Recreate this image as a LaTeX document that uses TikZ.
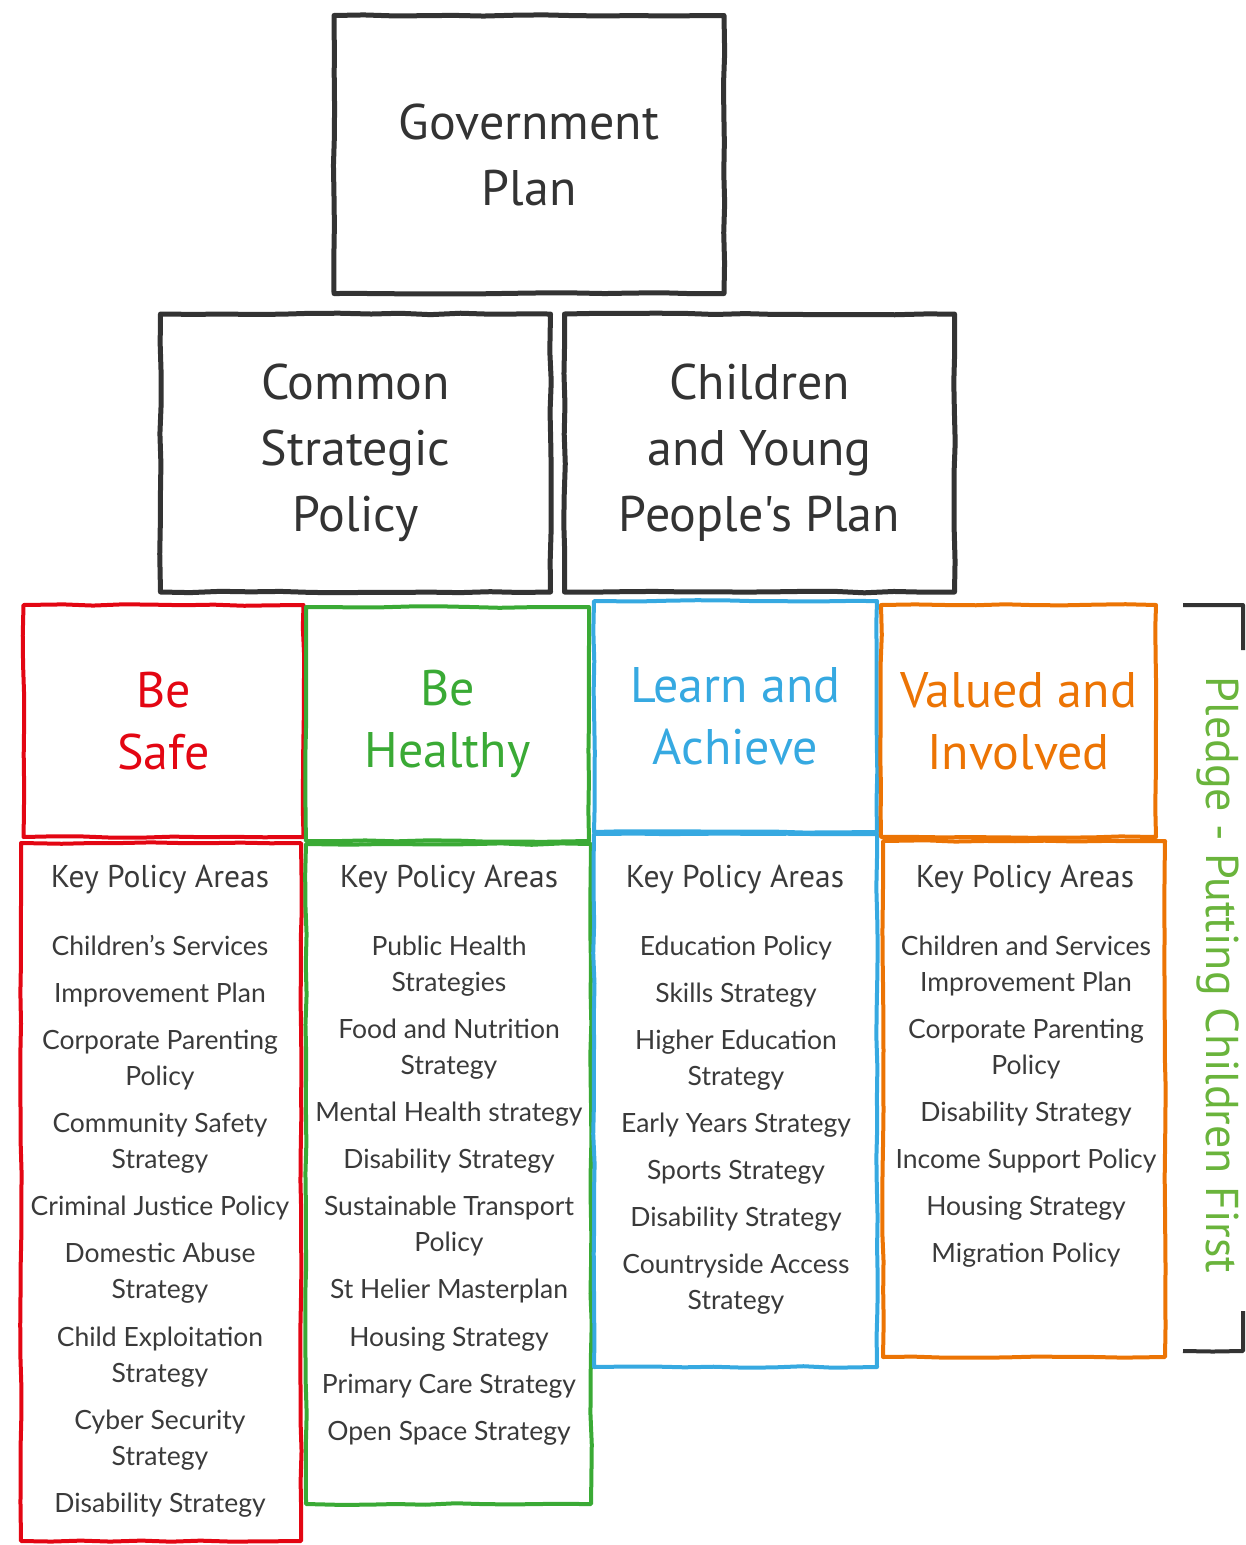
\documentclass[tikz,border=0pt]{standalone}
\usepackage{fontspec}
\setmainfont{Lato}
\newfontfamily\handfont{PT Sans}
\usepackage{xcolor}
\definecolor{INKcolor}{HTML}{333333}
\definecolor{TXTcolor}{HTML}{3a3a3a}
\definecolor{SAFEcolor}{HTML}{e30613}
\definecolor{HEALTHcolor}{HTML}{3aaa35}
\definecolor{LEARNcolor}{HTML}{36a9e1}
\definecolor{VALUEDcolor}{HTML}{ec7404}
\definecolor{PLEDGEcolor}{HTML}{6ab43c}
\usepackage{tikz}
\usetikzlibrary{math, calc, decorations.pathmorphing}

\begin{document}
\begin{tikzpicture}[x=1pt, y=-1pt]
    \tikzset{%
        sketch/.style={draw=#1, line width=4pt, line join=round, decorate,
                decoration={random steps, segment length=30pt, amplitude=0.8pt}},
        planbox/.style={sketch=INKcolor, line width=5pt, text=INKcolor, inner sep=0pt, align=center,
                minimum width=390pt, minimum height=278pt,
                font=\handfont\fontsize{50}{66}\selectfont},
        pillar/.style={sketch=#1, text=#1, inner sep=0pt, align=center,
                font=\handfont\fontsize{50}{62}\selectfont},
        kpabox/.style={sketch=#1, inner sep=0pt},
        kpa/.style={text=TXTcolor, inner sep=0pt, font=\handfont\fontsize{31.5}{36}\selectfont},
        item/.style={text=TXTcolor, inner sep=0pt, text height=19pt, text depth=0pt,
                font=\fontsize{26.5}{30}\selectfont},
    }
    \pgfmathsetseed{11}
    \useasboundingbox (0,0) rectangle (1246,1545);

    % plans
    \node [planbox] (gov) at (529,154.5) {Government\\Plan};
    \node [planbox] (csp) at (355.5,453) {Common\\Strategic\\Policy};
    \node [planbox] (cyp) at (759.5,453) {Children\\and Young\\People's Plan};

    % pillars
    \node [pillar=SAFEcolor, minimum width=280pt, minimum height=232pt] (safe) at (163.5,721) {Be\\Safe};
    \node [kpabox=SAFEcolor, minimum width=280pt, minimum height=698pt] (safekpa) at (161,1192) {};
    \node [pillar=HEALTHcolor, minimum width=283pt, minimum height=234pt] (healthy) at (447.5,724) {Be\\Healthy};
    \node [kpabox=HEALTHcolor, minimum width=285pt, minimum height=660pt] (healthykpa) at (448.5,1174) {};
    \node [pillar=LEARNcolor, minimum width=283pt, minimum height=231pt] (learn) at (735.5,716.5) {Learn and\\Achieve};
    \node [kpabox=LEARNcolor, minimum width=283pt, minimum height=533pt] (learnkpa) at (735.5,1100.5) {};
    \node [pillar=VALUEDcolor, minimum width=275pt, minimum height=232pt] (valued) at (1018.5,721) {Valued and\\Involved};
    \node [kpabox=VALUEDcolor, minimum width=282pt, minimum height=516pt] (valuedkpa) at (1024,1099) {};

    % key policy areas
    \node [kpa] (safehead) at (160,880) {Key Policy Areas};
    \node [kpa] (healthyhead) at (449,880) {Key Policy Areas};
    \node [kpa] (learnhead) at (735,880) {Key Policy Areas};
    \node [kpa] (valuedhead) at (1025,880) {Key Policy Areas};

    \foreach \txt/\yy [count=\k] in {Children's Services/946, Improvement Plan/993,
            Corporate Parenting/1040, Policy/1076, Community Safety/1123, Strategy/1159,
            Criminal Justice Policy/1206, Domestic Abuse/1253, Strategy/1289,
            Child Exploitation/1337, Strategy/1373, Cyber Security/1420, Strategy/1456,
            Disability Strategy/1503} {%
            \node [item] (safe\k) at (160,\yy) {\txt};
        }
    \foreach \txt/\yy [count=\k] in {Public Health/946, Strategies/982,
            Food and Nutrition/1029, Strategy/1065, Mental Health strategy/1112,
            Disability Strategy/1159, Sustainable Transport/1206, Policy/1242,
            St Helier Masterplan/1289, Housing Strategy/1337, Primary Care Strategy/1384,
            Open Space Strategy/1431} {%
            \node [item] (healthy\k) at (449,\yy) {\txt};
        }
    \foreach \txt/\yy [count=\k] in {Education Policy/946, Skills Strategy/993,
            Higher Education/1040, Strategy/1076, Early Years Strategy/1123,
            Sports Strategy/1170, Disability Strategy/1217, Countryside Access/1264,
            Strategy/1300} {%
            \node [item] (learn\k) at (736,\yy) {\txt};
        }
    \foreach \txt/\yy [count=\k] in {Children and Services/946, Improvement Plan/982,
            Corporate Parenting/1029, Policy/1065, Disability Strategy/1112,
            Income Support Policy/1159, Housing Strategy/1206, Migration Policy/1253} {%
            \node [item] (valued\k) at (1026,\yy) {\txt};
        }

    % pledge bracket
    \coordinate (pledgetop) at (1183,605);
    \coordinate (pledgebot) at (1183,1351);
    \draw [sketch=INKcolor] (pledgetop) -- ++(60,0) -- ++(0,45);
    \draw [sketch=INKcolor] (pledgebot) -- ++(60,0) -- ++(0,-40);
    \node [text=PLEDGEcolor, rotate=-90, font=\handfont\fontsize{46}{50}\selectfont] (pledge) at (1218,975) {Pledge - Putting Children First};
\end{tikzpicture}
\end{document}
